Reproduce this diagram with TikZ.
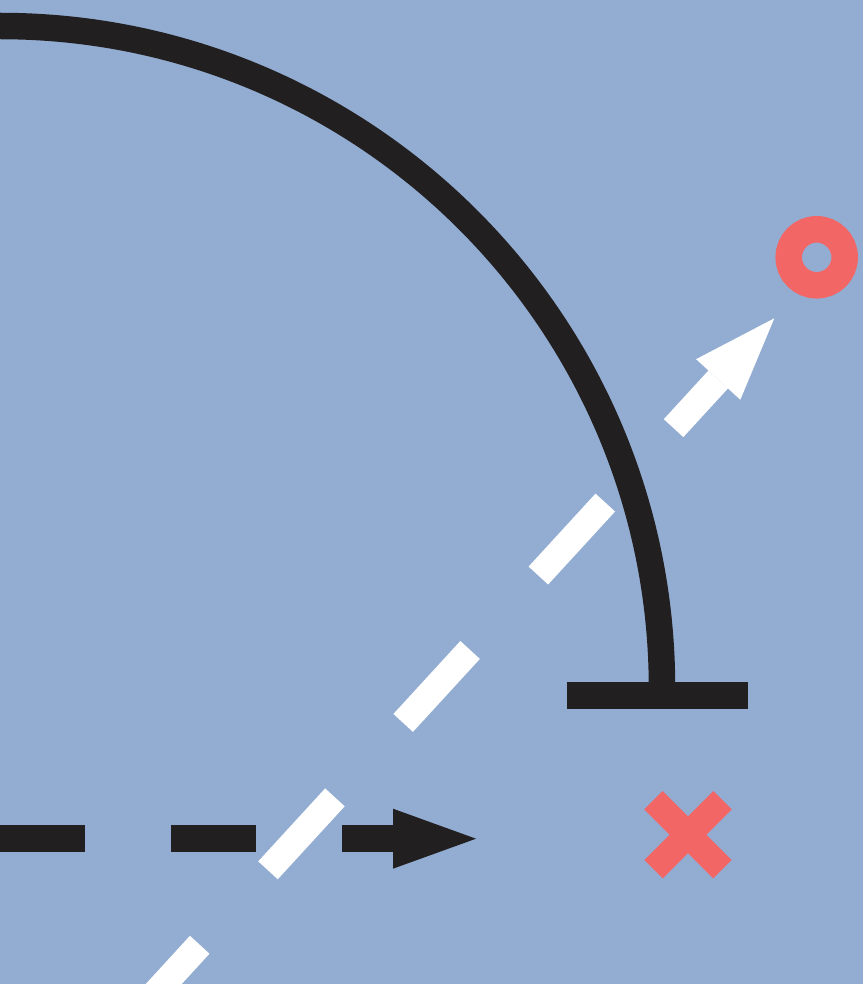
\documentclass[tikz,border=0pt]{standalone}
\usepackage{xcolor}
\definecolor{skyblue}{RGB}{147,173,210}
\definecolor{inkblack}{RGB}{34,31,32}
\definecolor{coral}{RGB}{242,102,102}
\usepackage{tikz}
\usetikzlibrary{arrows.meta,shapes.misc}
\tikzset{
  ink/.style     ={draw=inkblack, line width=26.5pt},
  inkdash/.style ={ink, dash pattern=on 85pt off 86pt,
                   -{Triangle[length=83pt, width=60pt, line width=0pt]}},
  whitedash/.style={draw=white, line width=26.5pt, dash pattern=on 99pt off 101pt,
                   -{Triangle[length=83pt, width=60pt, line width=0pt]}},
  ring/.style    ={circle, draw=coral, line width=26.5pt, minimum size=56pt,
                   inner sep=0pt, outer sep=0pt},
  miss/.style    ={cross out, draw=coral, line width=26pt, minimum size=69pt,
                   inner sep=0pt, outer sep=0pt},
}

\begin{document}
\begin{tikzpicture}[x=1pt, y=-1pt]
  \useasboundingbox (0,0) rectangle (863,984);
  \fill[skyblue] (0,0) rectangle (863,984);
  \clip (0,0) rectangle (863,984);
  % arc ending in a bar
  \coordinate (arcstart) at (0,26);
  \coordinate (stembase) at (662,696);
  \coordinate (barleft)  at (567.3,695.7);
  \coordinate (barright) at (748.3,695.7);
  \draw[ink] (arcstart) arc[start angle=90, end angle=0, radius=662pt] -- (stembase);
  \draw[ink] (barleft) -- (barright);
  % black dashed arrow
  \coordinate (inkstart) at (0,838.7);
  \coordinate (inktip)   at (476,838.7);
  \draw[inkdash] (inkstart) -- (inktip);
  % white dashed arrow
  \coordinate (whitestart) at (132.8,1017.7);
  \coordinate (whitetip)   at (774.3,318.3);
  \draw[whitedash] (whitestart) -- (whitetip);
  % marks
  \node[ring] (hit)  at (816.7,257.3) {};
  \node[miss] (lost) at (688,834.7) {};
\end{tikzpicture}
\end{document}
